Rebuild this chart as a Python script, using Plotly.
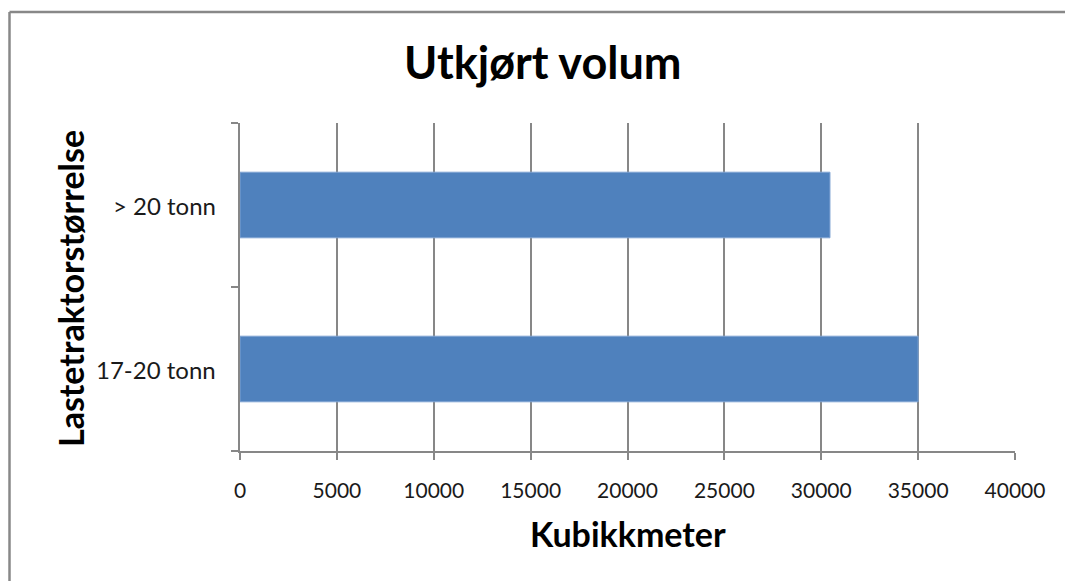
import plotly.graph_objects as go

categories = ["17-20 tonn", "> 20 tonn"]
values = [35000, 30450]
x_ticks = [0, 5000, 10000, 15000, 20000, 25000, 30000, 35000, 40000]

L, R, T, B = 240, 50, 123, 130
W, H = 1065, 581
pw, ph = W - L - R, H - T - B


def px(xp):
    return (xp - L) / pw


def py(yp):
    return (H - B - yp) / ph


fig = go.Figure(go.Bar(
    y=categories, x=values, orientation="h",
    marker=dict(color="#4F81BD", line=dict(color="#7FA3D3", width=1)),
    width=0.4,
))

font = "Lato, 'Open Sans', sans-serif"
fig.update_layout(
    width=W, height=H,
    margin=dict(l=L, r=R, t=T, b=B),
    paper_bgcolor="white", plot_bgcolor="white",
    showlegend=False,
    font=dict(family=font, size=21, color="black"),
)
fig.update_xaxes(
    range=[0, 40000], tickvals=x_ticks, ticktext=[str(v) for v in x_ticks],
    showgrid=True, gridcolor="#878787", gridwidth=2,
    showline=True, linecolor="#878787", linewidth=2,
    ticks="outside", ticklen=7, tickcolor="#878787", tickwidth=2,
    zeroline=False, tickfont=dict(size=21, color="#1a1a1a"), ticklabelstandoff=13,
)
fig.update_yaxes(
    range=[-0.5, 1.5],
    showline=True, linecolor="#878787", linewidth=2,
    ticks="outside", ticklen=7, tickcolor="#878787", tickwidth=2,
    tickmode="array", tickvals=[-0.5, 0.5, 1.5], ticktext=["", "", ""],
    showgrid=False, zeroline=False,
)
for i, c in enumerate(categories):
    fig.add_annotation(x=px(218), xref="paper", y=i, yref="y", text=c,
                       showarrow=False, xanchor="right", yanchor="middle",
                       font=dict(size=24, family=font, color="#1a1a1a"))

# outer border (only left and top visible)
fig.add_shape(type="line", xref="paper", yref="paper",
              x0=px(9.5), x1=px(1200), y0=py(12), y1=py(12),
              line=dict(color="#888888", width=2.5), layer="below")
fig.add_shape(type="line", xref="paper", yref="paper",
              x0=px(9.5), x1=px(9.5), y0=py(900), y1=py(12),
              line=dict(color="#888888", width=2.5), layer="below")

fig.add_annotation(x=px(543), xref="paper", y=py(62), yref="paper",
                   text="<b>Utkjørt volum</b>", showarrow=False,
                   xanchor="center", yanchor="middle", font=dict(size=45, family=font))
fig.add_annotation(x=px(628), xref="paper", y=py(533), yref="paper",
                   text="<b>Kubikkmeter</b>", showarrow=False,
                   xanchor="center", yanchor="middle", font=dict(size=34, family=font))
fig.add_annotation(x=px(70), xref="paper", y=py(289), yref="paper",
                   text="<b>Lastetraktorstørrelse</b>", showarrow=False, textangle=-90,
                   xanchor="center", yanchor="middle", font=dict(size=34, family=font))

fig.write_html(
    "out.html",
    config={"displayModeBar": False},
    post_script="document.body.style.margin='0';document.body.style.overflow='hidden';",
)
